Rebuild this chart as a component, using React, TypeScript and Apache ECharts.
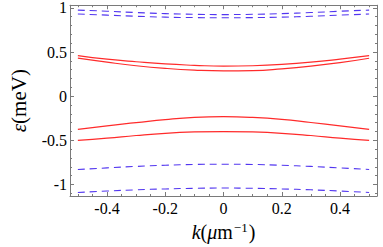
import React, { useEffect, useRef } from "react";
import * as echarts from "echarts";

const kValues = [-0.5, -0.4, -0.3, -0.2, -0.1, 0, 0.1, 0.2, 0.3, 0.4, 0.5];
const solidUpperA = [0.46, 0.42, 0.39, 0.365, 0.35, 0.34, 0.345, 0.36, 0.385, 0.42, 0.46];
const solidUpperB = [0.43, 0.385, 0.345, 0.315, 0.295, 0.286, 0.29, 0.31, 0.34, 0.38, 0.43];
const solidLowerC = [-0.375, -0.335, -0.3, -0.265, -0.24, -0.232, -0.24, -0.262, -0.298, -0.335, -0.375];
const solidLowerD = [-0.5, -0.475, -0.445, -0.42, -0.405, -0.4, -0.405, -0.42, -0.445, -0.475, -0.5];
const dashedTopE = [0.975, 0.962, 0.947, 0.935, 0.927, 0.924, 0.927, 0.935, 0.947, 0.962, 0.975];
const dashedTopF = [0.93, 0.918, 0.905, 0.895, 0.89, 0.888, 0.89, 0.895, 0.905, 0.918, 0.93];
const dashedBotG = [-0.83, -0.812, -0.795, -0.782, -0.773, -0.77, -0.773, -0.782, -0.795, -0.812, -0.83];
const dashedBotH = [-1.09, -1.074, -1.06, -1.05, -1.043, -1.04, -1.043, -1.05, -1.06, -1.074, -1.09];

const xMajor = [-0.4, -0.2, 0, 0.2, 0.4];
const xMinor = [-0.5, -0.45, -0.35, -0.3, -0.25, -0.15, -0.1, -0.05, 0.05, 0.1, 0.15, 0.25, 0.3, 0.35, 0.45, 0.5];
const yMajor = [-1, -0.5, 0, 0.5, 1];
const yMinor = [-1.1, -0.9, -0.8, -0.7, -0.6, -0.4, -0.3, -0.2, -0.1, 0.1, 0.2, 0.3, 0.4, 0.6, 0.7, 0.8, 0.9];

const X_MIN = -0.527;
const X_MAX = 0.527;
const Y_MIN = -1.13;
const Y_MAX = 1.03;

const FONT = "Liberation Serif";
const AXIS_COLOR = "#7a7a7a";
const RED = "#ff2b2b";
const BLUE = "#5236f0";

export default function App() {
  const ref = useRef<HTMLDivElement>(null);
  useEffect(() => {
    document.body.style.margin = "0";
    if (!ref.current) return;
    const chart = echarts.init(ref.current, undefined, { renderer: "svg" });
    const mk = (arr: number[]) => kValues.map((k, i) => [k, arr[i]]);
    const solid = (arr: number[]) => ({
      type: "line",
      data: mk(arr),
      smooth: true,
      showSymbol: false,
      symbol: "none",
      lineStyle: { color: RED, width: 1.2 },
      xAxisIndex: 0,
      yAxisIndex: 0,
    });
    const dashed = (arr: number[]) => ({
      type: "line",
      data: mk(arr),
      smooth: true,
      showSymbol: false,
      symbol: "none",
      lineStyle: { color: BLUE, width: 1.1, type: [7, 5] },
      xAxisIndex: 0,
      yAxisIndex: 0,
    });
    const xAx = (pos: string, major: boolean, main: boolean) => ({
      type: "value",
      position: pos,
      min: X_MIN,
      max: X_MAX,
      axisLine: { show: main, onZero: false, lineStyle: { color: AXIS_COLOR, width: 1 } },
      axisTick: {
        show: true,
        inside: true,
        length: major ? 4 : 2,
        customValues: major ? xMajor : xMinor,
        lineStyle: { color: AXIS_COLOR },
      },
      axisLabel: {
        show: main && pos === "bottom",
        customValues: xMajor,
        fontFamily: FONT,
        fontSize: 16,
        color: "#000",
        margin: 4,
        formatter: (v: number) => String(v),
      },
      splitLine: { show: false },
      ...(main && pos === "bottom"
        ? {
            name: "{i|k}{n|(}{i|μ}{n|m}{s|−1}{n|)}",
            nameLocation: "middle",
            nameGap: 25,
            nameTextStyle: {
              rich: {
                i: { fontFamily: FONT, fontStyle: "italic", fontSize: 20, color: "#000" },
                n: { fontFamily: FONT, fontSize: 20, color: "#000" },
                s: { fontFamily: FONT, fontSize: 13, color: "#000", padding: [0, 1, 9, 1] },
              },
            },
          }
        : {}),
    });
    const yAx = (pos: string, major: boolean, main: boolean) => ({
      type: "value",
      position: pos,
      min: Y_MIN,
      max: Y_MAX,
      axisLine: { show: main, onZero: false, lineStyle: { color: AXIS_COLOR, width: 1 } },
      axisTick: {
        show: true,
        inside: true,
        length: major ? 4 : 2,
        customValues: major ? yMajor : yMinor,
        lineStyle: { color: AXIS_COLOR },
      },
      axisLabel: {
        show: main && pos === "left",
        customValues: yMajor,
        fontFamily: FONT,
        fontSize: 16,
        color: "#000",
        margin: 3,
        formatter: (v: number) => String(v),
      },
      splitLine: { show: false },
      ...(main && pos === "left"
        ? {
            name: "{i|ε}{n|(meV)}",
            nameLocation: "middle",
            nameGap: 41,
            nameTextStyle: {
              rich: {
                i: { fontFamily: FONT, fontStyle: "italic", fontSize: 21, color: "#000" },
                n: { fontFamily: FONT, fontSize: 21, color: "#000" },
              },
            },
          }
        : {}),
    });
    chart.setOption({
      animation: false,
      backgroundColor: "#fff",
      textStyle: { fontFamily: FONT },
      grid: { left: 53, top: 5, right: 6, bottom: 42, containLabel: false },
      xAxis: [
        xAx("bottom", true, true),
        xAx("bottom", false, false),
        xAx("top", true, true),
        xAx("top", false, false),
      ],
      yAxis: [
        yAx("left", true, true),
        yAx("left", false, false),
        yAx("right", true, true),
        yAx("right", false, false),
      ],
      series: [
        solid(solidUpperA),
        solid(solidUpperB),
        solid(solidLowerC),
        solid(solidLowerD),
        dashed(dashedTopE),
        dashed(dashedTopF),
        dashed(dashedBotG),
        dashed(dashedBotH),
      ],
    });
    return () => chart.dispose();
  }, []);
  return <div ref={ref} style={{ width: 383, height: 247 }} />;
}
